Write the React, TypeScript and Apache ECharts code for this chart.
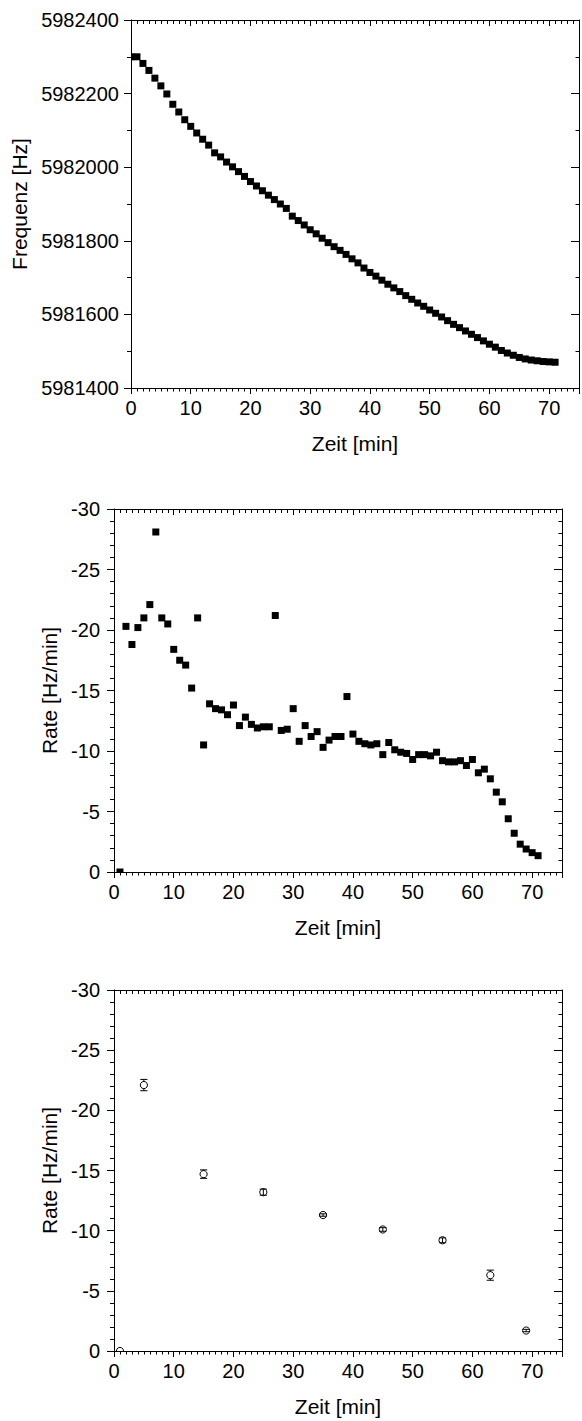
import React, { useEffect, useRef } from 'react';
import * as echarts from 'echarts';

// ---------- data ----------
const timeMin = [
  0, 1, 2, 3, 4, 5, 6, 7, 8, 9, 10, 11, 12, 13, 14, 15, 16, 17, 18, 19, 20, 21, 22, 23,
  24, 25, 26, 27, 28, 29, 30, 31, 32, 33, 34, 35, 36, 37, 38, 39, 40, 41, 42, 43, 44, 45, 46, 47,
  48, 49, 50, 51, 52, 53, 54, 55, 56, 57, 58, 59, 60, 61, 62, 63, 64, 65, 66, 67, 68, 69, 70, 71,
];
const frequencyHz = [
  5982300, 5982300, 5982282, 5982263, 5982242, 5982221, 5982199, 5982171, 5982150, 5982129,
  5982111, 5982093, 5982076, 5982060, 5982039, 5982028, 5982014, 5982001, 5981988, 5981975,
  5981961, 5981949, 5981936, 5981924, 5981912, 5981900, 5981888, 5981867, 5981855, 5981843,
  5981830, 5981819, 5981807, 5981795, 5981784, 5981774, 5981763, 5981751, 5981740, 5981726,
  5981714, 5981704, 5981693, 5981682, 5981672, 5981662, 5981651, 5981641, 5981631, 5981622,
  5981612, 5981603, 5981593, 5981583, 5981573, 5981564, 5981555, 5981546, 5981537, 5981528,
  5981519, 5981511, 5981502, 5981495, 5981489, 5981483, 5981479, 5981476, 5981474, 5981472,
  5981471, 5981470,
];

const rateTime = [
  1, 2, 3, 4, 5, 6, 7, 8, 9, 10, 11, 12, 13, 14, 15, 16, 17, 18, 19, 20, 21, 22, 23, 24,
  25, 26, 27, 28, 29, 30, 31, 32, 33, 34, 35, 36, 37, 38, 39, 40, 41, 42, 43, 44, 45, 46, 47, 48,
  49, 50, 51, 52, 53, 54, 55, 56, 57, 58, 59, 60, 61, 62, 63, 64, 65, 66, 67, 68, 69, 70, 71,
];
const rateHzPerMin = [
  0, -20.3, -18.8, -20.2, -21.0, -22.1, -28.1, -21.0, -20.5, -18.4, -17.5, -17.1, -15.2, -21.0,
  -10.5, -13.9, -13.5, -13.4, -13.0, -13.8, -12.1, -12.8, -12.2, -11.9, -12.0, -12.0, -21.2,
  -11.7, -11.8, -13.5, -10.8, -12.1, -11.2, -11.6, -10.3, -10.9, -11.2, -11.2, -14.5, -11.4,
  -10.8, -10.6, -10.5, -10.6, -9.7, -10.7, -10.1, -9.9, -9.8, -9.3, -9.7, -9.7, -9.6, -9.9,
  -9.2, -9.1, -9.1, -9.2, -8.8, -9.3, -8.2, -8.5, -7.7, -6.6, -5.8, -4.4, -3.2, -2.3, -1.9,
  -1.6, -1.35,
];

const avgTime = [1, 5, 15, 25, 35, 45, 55, 63, 69];
const avgRate = [0, -22.1, -14.7, -13.2, -11.3, -10.1, -9.2, -6.3, -1.7];
const avgErr = [0, 0.47, 0.35, 0.25, 0.1, 0.15, 0.2, 0.42, 0.1];

const xTitle = 'Zeit [min]';
const freqTitle = 'Frequenz [Hz]';
const rateTitle = 'Rate [Hz/min]';

// ---------- styling ----------
const FONT = "'Liberation Sans', Arial, Helvetica, sans-serif";
const AX = { color: '#000', width: 1 };
const LBL = { fontSize: 20, fontFamily: FONT, color: '#000' };
const NAME = { fontSize: 21, fontFamily: FONT, color: '#000' };

type Panel = {
  left: number; top: number; width: number; height: number;
  yMin: number; yMax: number; yMajor: number; yMinor: number;
  inverse: boolean; yName: string; yNameGap: number; yLabelMargin: number;
};

const panels: Panel[] = [
  { left: 131, top: 20, width: 456, height: 368, yMin: 5981400, yMax: 5982400, yMajor: 200, yMinor: 100,
    inverse: false, yName: freqTitle, yNameGap: 96, yLabelMargin: 12 },
  { left: 114, top: 509, width: 448, height: 363, yMin: -30, yMax: 0, yMajor: 5, yMinor: 1,
    inverse: true, yName: rateTitle, yNameGap: 54, yLabelMargin: 14 },
  { left: 114, top: 990, width: 448, height: 361, yMin: -30, yMax: 0, yMajor: 5, yMinor: 1,
    inverse: true, yName: rateTitle, yNameGap: 54, yLabelMargin: 14 },
];

function buildAxes(g: number, p: Panel) {
  const common = { gridIndex: g, type: 'value', splitLine: { show: false }, silent: true };
  const xb = { ...common, min: 0, max: 75 };
  const yb = { ...common, min: p.yMin, max: p.yMax, inverse: p.inverse };
  const xAxes = [
    { ...xb, position: 'bottom', interval: 10,
      axisLine: { show: true, onZero: false, lineStyle: AX },
      axisTick: { show: true, inside: false, length: 6, lineStyle: AX },
      axisLabel: { show: true, margin: 10, ...LBL, formatter: (v: number) => (v % 10 === 0 ? String(v) : '') },
      name: xTitle, nameLocation: 'middle', nameGap: 45, nameTextStyle: NAME },
    { ...xb, position: 'bottom', interval: 1,
      axisLine: { show: false, onZero: false },
      axisTick: { show: true, inside: false, length: 3.5, lineStyle: AX },
      axisLabel: { show: false } },
    { ...xb, position: 'top', interval: 10,
      axisLine: { show: true, onZero: false, lineStyle: AX },
      axisTick: { show: true, inside: true, length: 6, lineStyle: AX },
      axisLabel: { show: false } },
    { ...xb, position: 'top', interval: 1,
      axisLine: { show: false, onZero: false },
      axisTick: { show: true, inside: true, length: 4, lineStyle: AX },
      axisLabel: { show: false } },
  ];
  const yAxes = [
    { ...yb, position: 'left', interval: p.yMajor,
      axisLine: { show: true, onZero: false, lineStyle: AX },
      axisTick: { show: true, inside: false, length: 7, lineStyle: AX },
      axisLabel: { show: true, margin: p.yLabelMargin, ...LBL, formatter: (v: number) => String(v) },
      name: p.yName, nameLocation: 'middle', nameGap: p.yNameGap, nameTextStyle: NAME },
    { ...yb, position: 'left', interval: p.yMinor,
      axisLine: { show: false, onZero: false },
      axisTick: { show: true, inside: false, length: 4, lineStyle: AX },
      axisLabel: { show: false } },
    { ...yb, position: 'right', interval: p.yMajor,
      axisLine: { show: true, onZero: false, lineStyle: AX },
      axisTick: { show: true, inside: true, length: 8, lineStyle: AX },
      axisLabel: { show: false } },
    { ...yb, position: 'right', interval: p.yMinor,
      axisLine: { show: false, onZero: false },
      axisTick: { show: true, inside: true, length: 3.5, lineStyle: AX },
      axisLabel: { show: false } },
  ];
  return { xAxes, yAxes };
}

const SQ = 7;
const squareItem = (params: any, api: any) => {
  const c = api.coord([api.value(0), api.value(1)]);
  return {
    type: 'rect',
    shape: { x: c[0] - SQ / 2, y: c[1] - SQ / 2, width: SQ, height: SQ },
    style: { fill: '#000' },
  };
};

const R = 3.6;
const CAP = 3.6;
const errItem = (params: any, api: any) => {
  const x = api.value(0);
  const y = api.value(1);
  const e = api.value(2);
  const c = api.coord([x, y]);
  const ePx = Math.abs(api.coord([x, y + e])[1] - c[1]);
  const children: any[] = [
    { type: 'circle', shape: { cx: c[0], cy: c[1], r: R }, style: { fill: '#fff', stroke: '#000', lineWidth: 1 } },
  ];
  const ls = { stroke: '#000', lineWidth: 1 };
  if (ePx > 0.5) {
    if (ePx > R) {
      children.push({ type: 'line', shape: { x1: c[0], y1: c[1] - R, x2: c[0], y2: c[1] - ePx }, style: ls });
      children.push({ type: 'line', shape: { x1: c[0], y1: c[1] + R, x2: c[0], y2: c[1] + ePx }, style: ls });
    } else {
      children.push({ type: 'line', shape: { x1: c[0], y1: c[1] - ePx, x2: c[0], y2: c[1] + ePx }, style: ls });
    }
    children.push({ type: 'line', shape: { x1: c[0] - CAP, y1: c[1] - ePx, x2: c[0] + CAP, y2: c[1] - ePx }, style: ls });
    children.push({ type: 'line', shape: { x1: c[0] - CAP, y1: c[1] + ePx, x2: c[0] + CAP, y2: c[1] + ePx }, style: ls });
  }
  return { type: 'group', children };
};

export default function App() {
  const ref = useRef<HTMLDivElement>(null);
  useEffect(() => {
    if (!ref.current) return;
    const chart = echarts.init(ref.current, undefined, { renderer: 'svg' });
    const xAxis: any[] = [];
    const yAxis: any[] = [];
    panels.forEach((p, g) => {
      const a = buildAxes(g, p);
      xAxis.push(...a.xAxes);
      yAxis.push(...a.yAxes);
    });
    chart.setOption({
      animation: false,
      backgroundColor: '#fff',
      textStyle: { fontFamily: FONT },
      grid: panels.map((p) => ({ left: p.left, top: p.top, width: p.width, height: p.height, show: false })),
      xAxis,
      yAxis,
      series: [
        { type: 'custom', xAxisIndex: 0, yAxisIndex: 0, clip: true, silent: true,
          data: timeMin.map((t, i) => [t, frequencyHz[i]]), renderItem: squareItem },
        { type: 'custom', xAxisIndex: 4, yAxisIndex: 4, clip: true, silent: true,
          data: rateTime.map((t, i) => [t, rateHzPerMin[i]]), renderItem: squareItem },
        { type: 'custom', xAxisIndex: 8, yAxisIndex: 8, clip: true, silent: true,
          data: avgTime.map((t, i) => [t, avgRate[i], avgErr[i]]), renderItem: errItem },
      ],
    });
    return () => chart.dispose();
  }, []);
  return (
    <div
      ref={ref}
      style={{ position: 'absolute', left: 0, top: 0, width: 582, height: 1421, overflow: 'hidden', background: '#fff' }}
    />
  );
}
